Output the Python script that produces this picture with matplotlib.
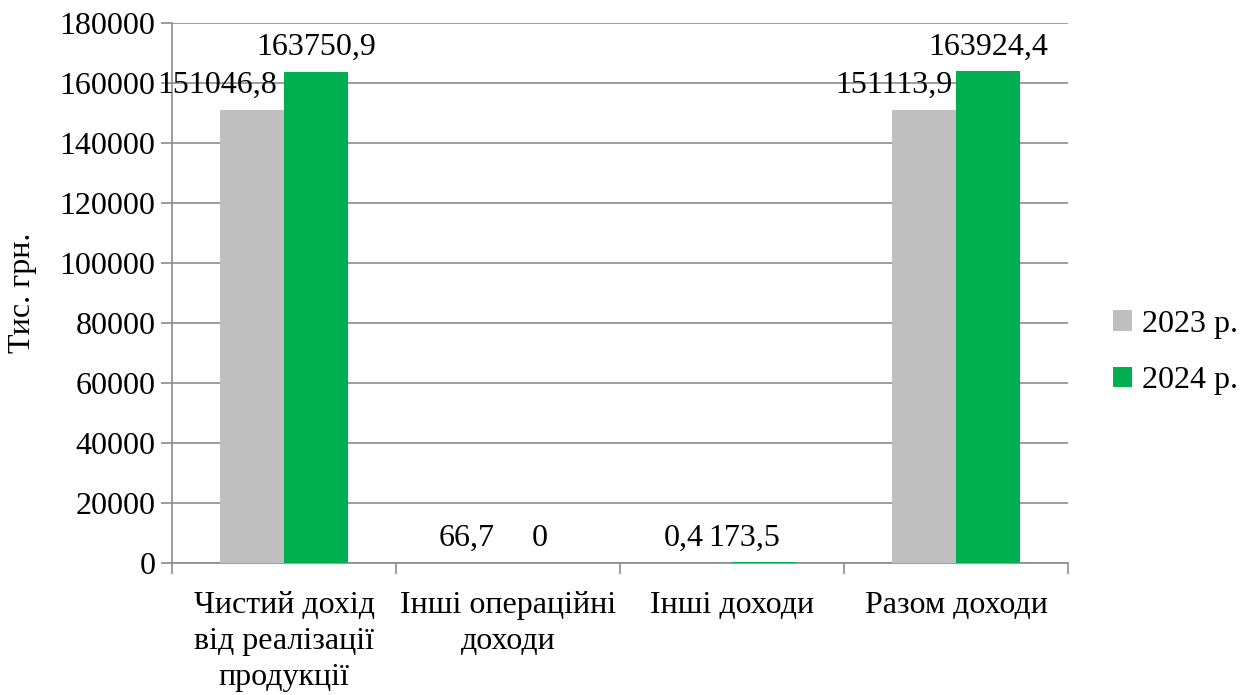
import matplotlib.pyplot as plt
import numpy as np

plt.rcParams['font.family'] = ['Liberation Serif', 'DejaVu Serif']

# Data
categories = ['Чистий дохід\nвід реалізації\nпродукції', 'Інші операційні\nдоходи',
              'Інші доходи', 'Разом доходи']
v2023 = [151046.8, 66.7, 0.4, 151113.9]
v2024 = [163750.9, 0, 173.5, 163924.4]
lab2023 = ['151046,8', '66,7', '0,4', '151113,9']
lab2024 = ['163750,9', '0', '173,5', '163924,4']
series_names = ['2023 р.', '2024 р.']

fig = plt.figure(figsize=(12.43, 6.95), dpi=100)
ax = fig.add_axes([0.1384, 0.19, 0.7208, 0.777])

x = np.arange(len(categories))
w = 0.285
b1 = ax.bar(x - w/2, v2023, w, color='#BFBFBF', label=series_names[0], zorder=3)
b2 = ax.bar(x + w/2, v2024, w, color='#00B050', label=series_names[1], zorder=3)

fs = 23
# label shifts (points) to mimic the overlap-avoidance of the original
dx1 = [-25, -7, -12, -22]
dx2 = [0, 0, -14, 0]
for i in range(len(x)):
    ax.annotate(lab2023[i], (x[i] - w/2, v2023[i]), xytext=(dx1[i], 7),
                textcoords='offset points', ha='center', va='bottom', fontsize=fs, zorder=4)
    ax.annotate(lab2024[i], (x[i] + w/2, v2024[i]), xytext=(dx2[i], 7),
                textcoords='offset points', ha='center', va='bottom', fontsize=fs, zorder=4)

ax.set_xlim(-0.5, len(categories) - 0.5)
ax.set_ylim(0, 180000)
ax.set_yticks(np.arange(0, 180001, 20000))
ax.set_yticklabels([str(t) for t in range(0, 180001, 20000)], fontsize=fs)
ax.yaxis.grid(True, color='#8C8C8C', linewidth=1.2, zorder=0)

ax.set_xticks(x)
ax.set_xticklabels(categories, fontsize=fs, linespacing=1.32)
ax.set_xticks(np.arange(-0.5, len(categories)), minor=True)
ax.tick_params(axis='x', which='major', length=0, pad=20)
ax.tick_params(axis='x', which='minor', length=8, color='#8C8C8C', width=1.2)
ax.tick_params(axis='y', length=8, color='#8C8C8C', width=1.2, pad=4)

for s in ['top', 'right']:
    ax.spines[s].set_visible(False)
for s in ['left', 'bottom']:
    ax.spines[s].set_color('#8C8C8C')
    ax.spines[s].set_linewidth(1.2)

ax.set_ylabel('Тис. грн.', fontsize=fs, labelpad=16)

ax.legend(loc='center left', bbox_to_anchor=(1.018, 0.39), frameon=False, fontsize=fs,
          handlelength=0.6, handleheight=0.6, handletextpad=0.3, labelspacing=0.85)

plt.savefig('out.png', dpi=100)
plt.close()
